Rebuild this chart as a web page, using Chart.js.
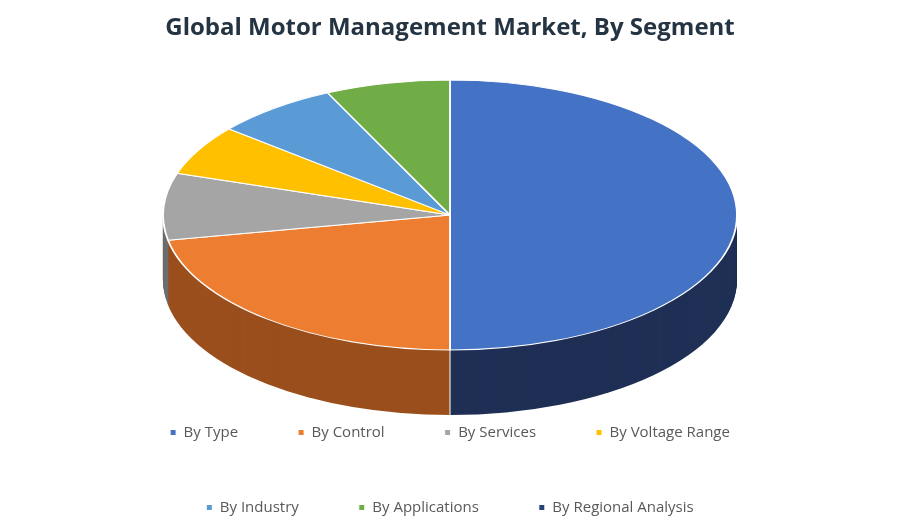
<!DOCTYPE html>
<html>
<head>
<meta charset="utf-8">
<script src="https://cdn.jsdelivr.net/npm/chart.js@4"></script>
<style>
  body { margin: 0; background: #fff; }
  #wrap { width: 900px; height: 525px; }
</style>
</head>
<body>
<div id="wrap"><canvas id="c"></canvas></div>
<script>
const segments = ["By Type", "By Control", "By Services", "By Voltage Range", "By Industry", "By Applications", "By Regional Analysis"];
const shares = [50, 22, 8, 6, 7, 7, 0];
const topColors = ["#4472C4", "#ED7D31", "#A5A5A5", "#FFC000", "#5B9BD5", "#70AD47", "#264478"];
const sideColors = ["#1F2F55", "#9A4F1D", "#6E6E6E", "#A37B00", "#3A6A94", "#4A7530", "#15264A"];

// squash the pie into an ellipse and extrude a side wall under it
const pie3d = {
  id: "pie3d",
  beforeDatasetsDraw(chart) {
    const ctx = chart.ctx;
    const arcs = chart.getDatasetMeta(0).data;
    const r = arcs[0].outerRadius;
    const cx = arcs[0].x, cy = arcs[0].y;
    const rx = 287, ry = 135, ex = 450, ey = 215, depth = 65;
    ctx.save();
    for (let d = depth; d > 0; d--) {
      ctx.save();
      ctx.translate(ex, ey + d);
      ctx.scale(rx / r, ry / r);
      ctx.translate(-cx, -cy);
      arcs.forEach((a, i) => {
        if (a.endAngle - a.startAngle <= 0) return;
        ctx.beginPath();
        ctx.moveTo(cx, cy);
        ctx.arc(cx, cy, r, a.startAngle, a.endAngle);
        ctx.closePath();
        ctx.fillStyle = sideColors[i];
        ctx.fill();
      });
      ctx.restore();
    }
    // thin separator lines on the wall
    ctx.strokeStyle = "#ffffff";
    ctx.lineWidth = 1;
    ctx.beginPath();
    ctx.moveTo(ex, ey + ry);
    ctx.lineTo(ex, ey + ry + depth);
    ctx.stroke();
    ctx.restore();
    ctx.save();
    ctx.translate(ex, ey);
    ctx.scale(rx / r, ry / r);
    ctx.translate(-cx, -cy);
  },
  afterDatasetsDraw(chart) {
    chart.ctx.restore();
  }
};

new Chart(document.getElementById("c"), {
  type: "pie",
  data: {
    labels: segments,
    datasets: [{
      data: shares,
      backgroundColor: topColors,
      borderColor: "#ffffff",
      borderWidth: 1
    }]
  },
  plugins: [pie3d],
  options: {
    responsive: true,
    maintainAspectRatio: false,
    animation: false,
    layout: { padding: { left: 100, right: 100, top: 0, bottom: 0 } },
    plugins: {
      title: {
        display: true,
        text: "Global Motor Management Market, By Segment",
        color: "#243442",
        font: { family: "Open Sans", size: 24, weight: "bold" },
        padding: { top: 14, bottom: 12 }
      },
      legend: {
        position: "bottom",
        labels: {
          color: "#595959",
          font: { family: "Open Sans", size: 15 },
          usePointStyle: true,
          pointStyle: "rect",
          boxWidth: 6,
          boxHeight: 6,
          padding: 60
        }
      },
      tooltip: { enabled: false }
    }
  }
});
</script>
</body>
</html>
